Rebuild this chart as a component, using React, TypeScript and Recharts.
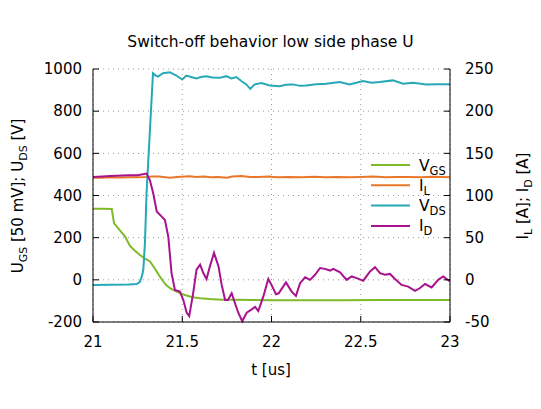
import { CartesianGrid, Label, Line, LineChart, XAxis, YAxis } from "recharts";

const xTicks = [21, 21.5, 22, 22.5, 23];
const leftTicks = [-200, 0, 200, 400, 600, 800, 1000];
const rightTicks = [-50, 0, 50, 100, 150, 200, 250];

const vgsTime = [21, 21.05, 21.105, 21.118, 21.15, 21.18, 21.207, 21.235, 21.263, 21.29, 21.319, 21.34, 21.357, 21.375, 21.394, 21.41, 21.431, 21.46, 21.487, 21.515, 21.543, 21.57, 21.6, 21.655, 21.72, 21.8, 21.9, 22, 22.2, 22.4, 22.6, 22.8, 23];
const vgsValues = [337, 337, 336, 268, 236, 205, 161, 138, 118, 102, 87, 62, 39, 15, -8, -25, -39, -52, -63, -72, -79, -84, -87, -91, -94, -95, -96, -97, -97, -97, -96, -96, -96];

const ilTime = [21, 21.05, 21.1, 21.15, 21.2, 21.25, 21.3, 21.33, 21.37, 21.43, 21.47, 21.54, 21.58, 21.62, 21.66, 21.7, 21.75, 21.78, 21.83, 21.88, 21.93, 21.98, 22.03, 22.1, 22.17, 22.24, 22.3, 22.37, 22.44, 22.5, 22.57, 22.64, 22.7, 22.77, 22.84, 22.9, 22.96, 23];
const ilValues = [121, 121, 121.5, 121.3, 121.5, 121.5, 122, 122.5, 122.5, 121, 121.8, 122.8, 121.8, 122.5, 121.5, 122, 121, 122.5, 123, 122, 122, 122.5, 121.5, 122, 121.5, 122.3, 121.7, 122, 121.5, 122, 122.5, 121.7, 122, 122, 121.5, 122.3, 122, 121.7];

const vdsTime = [21, 21.1, 21.2, 21.245, 21.263, 21.275, 21.282, 21.291, 21.3, 21.31, 21.32, 21.336, 21.35, 21.364, 21.392, 21.43, 21.467, 21.5, 21.523, 21.55, 21.579, 21.605, 21.635, 21.67, 21.71, 21.747, 21.775, 21.803, 21.831, 21.859, 21.881, 21.906, 21.943, 21.99, 22.046, 22.08, 22.12, 22.16, 22.195, 22.25, 22.307, 22.382, 22.438, 22.513, 22.56, 22.606, 22.68, 22.737, 22.793, 22.867, 22.93, 23];
const vdsValues = [-24, -23, -22, -20, -10, 20, 50, 175, 411, 569, 727, 980, 970, 964, 980, 985, 969, 950, 969, 962, 955, 962, 966, 960, 958, 966, 955, 962, 943, 927, 906, 927, 933, 922, 918, 925, 927, 920, 922, 928, 930, 938, 927, 943, 935, 938, 946, 930, 935, 927, 928, 928];

const idTime = [
  21, 21.1, 21.2, 21.25, 21.3, 21.319, 21.338, 21.357, 21.385, 21.403,
  21.422, 21.44, 21.459, 21.487, 21.506, 21.525, 21.539, 21.561, 21.58, 21.6,
  21.618, 21.636, 21.655, 21.678, 21.703, 21.721, 21.74, 21.756, 21.777, 21.796,
  21.814, 21.836, 21.861, 21.889, 21.908, 21.926, 21.954, 21.982, 22.0, 22.025,
  22.04, 22.081, 22.113, 22.137, 22.16, 22.188, 22.216, 22.244, 22.272, 22.3,
  22.328, 22.346, 22.384, 22.421, 22.449, 22.477, 22.514, 22.552, 22.58, 22.608,
  22.636, 22.664, 22.692, 22.729, 22.766, 22.804, 22.83, 22.86, 22.897, 22.934,
  22.962, 23,
];
const idValues = [
  122, 123, 124, 124, 126, 118, 102, 81, 75, 71,
  51, 8, -12, -14, -24, -39, -43, -16, 12, 18,
  8, 1, 16, 32, 16, -6, -24, -24, -16, -28,
  -39, -49, -39, -35, -32, -37, -20, 1, -6, -17,
  -16, -3, -14, -19, -4, 3, 0, 6, 14, 13,
  11, 13, 9, 0, 4, 2, -1, 10, 15, 8,
  6, 7, 1, -6, -8, -13, -10, -5, -9, 0,
  4, -2,
];

const toPoints = (ts: number[], vs: number[]) => ts.map((t, i) => ({ t, v: vs[i] }));

const FONT = "DejaVu Sans, sans-serif";
const GREEN = "#7dbb28";
const ORANGE = "#e8772a";
const TEAL = "#26a8b6";
const MAGENTA = "#a8128f";

const legendItems = [
  { main: "V", sub: "GS", color: GREEN },
  { main: "I", sub: "L", color: ORANGE },
  { main: "V", sub: "DS", color: TEAL },
  { main: "I", sub: "D", color: MAGENTA },
];

const LegendBox = () => (
  <svg width={120} height={95} style={{ display: "block" }}>
    {legendItems.map((it, i) => {
      const y = 15 + i * 20.3;
      return (
        <g key={i}>
          <line x1={11} x2={50} y1={y} y2={y} stroke={it.color} strokeWidth={2} />
          <text x={59} y={y + 5.5} fontFamily={FONT} fontSize={15.5} fill="#000">
            {it.main}
            <tspan dy={4} fontSize={11.5}>{it.sub}</tspan>
          </text>
        </g>
      );
    })}
  </svg>
);

export default function App() {
  const tick = { fill: "#000", fontSize: 15, fontFamily: FONT };
  return (
    <div style={{ position: "absolute", left: 0, top: 0, width: 541, height: 409, background: "#fff" }}>
      <div
        style={{
          position: "absolute",
          left: 0,
          top: 33,
          width: 541,
          textAlign: "center",
          fontFamily: FONT,
          fontSize: 15.5,
          color: "#000",
        }}
      >
        Switch-off behavior low side phase U
      </div>
      <LineChart width={541} height={409} margin={{ top: 69, right: 0, bottom: 57, left: 0 }}>
        <CartesianGrid
          xAxisId="bottom"
          yAxisId="left"
          stroke="#9a9a9a"
          strokeDasharray="1 4"
          verticalValues={xTicks}
        />
        <XAxis
          xAxisId="bottom"
          dataKey="t"
          type="number"
          domain={[21, 23]}
          ticks={xTicks}
          allowDataOverflow
          height={30}
          stroke="#000"
          tickSize={-6}
          tickMargin={20}
          tick={tick}
        >
          <Label
            content={() => (
              <text x={271} y={375} textAnchor="middle" fontFamily={FONT} fontSize={15} fill="#000">
                t [us]
              </text>
            )}
          />
        </XAxis>
        <XAxis
          xAxisId="top"
          orientation="top"
          dataKey="t"
          type="number"
          domain={[21, 23]}
          ticks={xTicks}
          height={0}
          stroke="#000"
          tickSize={-6}
          tickFormatter={() => ""}
        />
        <YAxis
          yAxisId="left"
          domain={[-200, 1000]}
          ticks={leftTicks}
          width={93}
          stroke="#000"
          tickSize={-6}
          tickMargin={17}
          tick={tick}
        >
          <Label
            content={() => (
              <text
                x={23}
                y={196}
                transform="rotate(-90, 23, 196)"
                textAnchor="middle"
                fontFamily={FONT}
                fontSize={15}
                fill="#000"
              >
                U<tspan dy={4} fontSize={11}>GS</tspan>
                <tspan dy={-4}> [50 mV]; U</tspan>
                <tspan dy={4} fontSize={11}>DS</tspan>
                <tspan dy={-4}> [V]</tspan>
              </text>
            )}
          />
        </YAxis>
        <YAxis
          yAxisId="right"
          orientation="right"
          domain={[-50, 250]}
          ticks={rightTicks}
          width={91}
          stroke="#000"
          tickSize={-6}
          tickMargin={21}
          tick={{ ...tick, textAnchor: "start" }}
        >
          <Label
            content={() => (
              <text
                x={528}
                y={196}
                transform="rotate(-90, 528, 196)"
                textAnchor="middle"
                fontFamily={FONT}
                fontSize={15}
                fill="#000"
              >
                I<tspan dy={4} fontSize={11}>L</tspan>
                <tspan dy={-4}> [A]; I</tspan>
                <tspan dy={4} fontSize={11}>D</tspan>
                <tspan dy={-4}> [A]</tspan>
              </text>
            )}
          />
        </YAxis>
        <Line
          xAxisId="bottom"
          yAxisId="left"
          data={toPoints(vgsTime, vgsValues)}
          dataKey="v"
          stroke={GREEN}
          strokeWidth={2}
          dot={false}
          isAnimationActive={false}
        />
        <Line
          xAxisId="bottom"
          yAxisId="right"
          data={toPoints(ilTime, ilValues)}
          dataKey="v"
          stroke={ORANGE}
          strokeWidth={2}
          dot={false}
          isAnimationActive={false}
        />
        <Line
          xAxisId="bottom"
          yAxisId="left"
          data={toPoints(vdsTime, vdsValues)}
          dataKey="v"
          stroke={TEAL}
          strokeWidth={2}
          dot={false}
          isAnimationActive={false}
        />
        <Line
          xAxisId="bottom"
          yAxisId="right"
          data={toPoints(idTime, idValues)}
          dataKey="v"
          stroke={MAGENTA}
          strokeWidth={2}
          dot={false}
          isAnimationActive={false}
        />
      </LineChart>
      <div style={{ position: "absolute", left: 360, top: 150 }}>
        <LegendBox />
      </div>
    </div>
  );
}
